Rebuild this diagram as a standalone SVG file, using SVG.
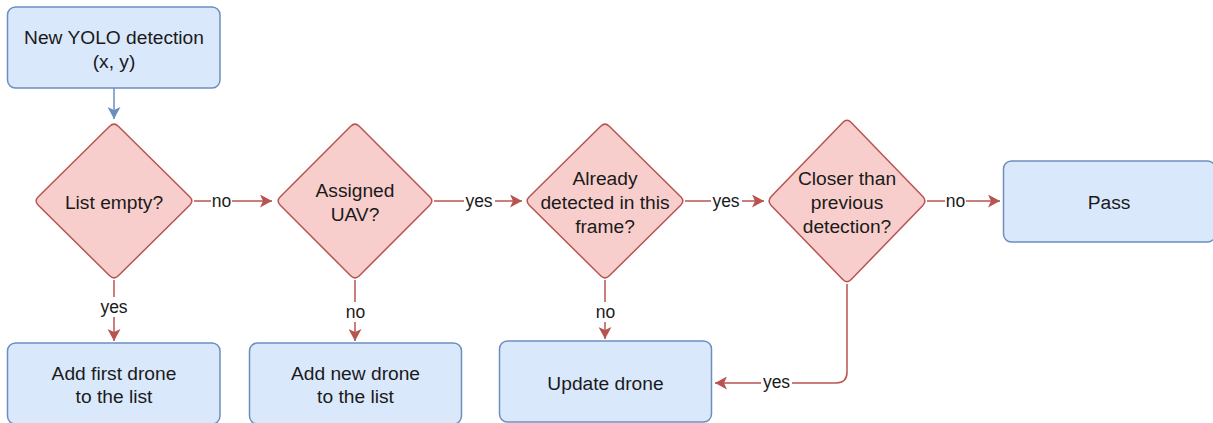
<svg xmlns="http://www.w3.org/2000/svg" width="1213" height="423" viewBox="0 0 1213 423">
  <style>
    .box { fill: #dae8fc; stroke: #6c8ebf; stroke-width: 1.5; }
    .dec { fill: #f8cecc; stroke: #b85450; stroke-width: 1.5; }
    .txt { font-family: "Liberation Sans", Arial, sans-serif; font-size: 19.2px; fill: #1a1a1a; text-anchor: middle; }
    .lbl { font-family: "Liberation Sans", Arial, sans-serif; font-size: 17.5px; fill: #1a1a1a; text-anchor: middle; }
    .edge { fill: none; stroke: #b85450; stroke-width: 1.5; }
    .edge-blue { fill: none; stroke: #6c8ebf; stroke-width: 1.5; }
    .lbg { fill: #ffffff; }
  </style>
  <defs>
    <marker id="arrowRed" markerUnits="userSpaceOnUse" markerWidth="12" markerHeight="13" viewBox="0 0 12 13" refX="12" refY="6.5" orient="auto">
      <path d="M0,0 L12,6.5 L0,13 L3,6.5 Z" fill="#b85450"/>
    </marker>
    <marker id="arrowBlue" markerUnits="userSpaceOnUse" markerWidth="12" markerHeight="13" viewBox="0 0 12 13" refX="12" refY="6.5" orient="auto">
      <path d="M0,0 L12,6.5 L0,13 L3,6.5 Z" fill="#6c8ebf"/>
    </marker>
  </defs>

  <!-- connectors -->
  <g id="connectors">
    <path class="edge-blue" d="M114,88 V119" marker-end="url(#arrowBlue)"/>
    <path class="edge" d="M194,201 H272" marker-end="url(#arrowRed)"/>
    <path class="edge" d="M434,201 H522" marker-end="url(#arrowRed)"/>
    <path class="edge" d="M685,201 H764" marker-end="url(#arrowRed)"/>
    <path class="edge" d="M927,201 H1000" marker-end="url(#arrowRed)"/>
    <path class="edge" d="M114,280 V341" marker-end="url(#arrowRed)"/>
    <path class="edge" d="M355,280 V341" marker-end="url(#arrowRed)"/>
    <path class="edge" d="M605,280 V339" marker-end="url(#arrowRed)"/>
    <path class="edge" d="M847,284 V372 Q847,383 836,383 H715" marker-end="url(#arrowRed)"/>

    <!-- edge labels -->
    <rect class="lbg" x="211" y="192" width="21" height="18"/>
    <text class="lbl" x="221.5" y="207">no</text>
    <rect class="lbg" x="464" y="192" width="31" height="18"/>
    <text class="lbl" x="479" y="207">yes</text>
    <rect class="lbg" x="711" y="192" width="31" height="18"/>
    <text class="lbl" x="726" y="207">yes</text>
    <rect class="lbg" x="945" y="192" width="21" height="18"/>
    <text class="lbl" x="955.5" y="207">no</text>
    <rect class="lbg" x="99" y="297" width="30" height="20"/>
    <text class="lbl" x="114" y="313">yes</text>
    <rect class="lbg" x="345" y="302" width="21" height="20"/>
    <text class="lbl" x="355.5" y="318">no</text>
    <rect class="lbg" x="595" y="302" width="21" height="20"/>
    <text class="lbl" x="605.5" y="318">no</text>
    <rect class="lbg" x="761" y="374" width="31" height="18"/>
    <text class="lbl" x="776.5" y="388">yes</text>
  </g>

  <g id="node-start">
    <rect class="box" x="7.5" y="7" width="212.5" height="81" rx="8"/>
    <text class="txt" x="114" y="44">New YOLO detection</text>
    <text class="txt" x="114" y="68">(x, y)</text>
  </g>

  <g id="node-list-empty">
    <path class="dec" d="M109.7,126.2 Q114,122 118.3,126.2 L189.7,196.8 Q194,201 189.7,205.2 L118.3,275.8 Q114,280 109.7,275.8 L38.3,205.2 Q34,201 38.3,196.8 Z"/>
    <text class="txt" x="114" y="209">List empty?</text>
  </g>

  <g id="node-assigned">
    <path class="dec" d="M350.7,126.2 Q355,122 359.3,126.2 L429.7,196.8 Q434,201 429.7,205.2 L359.3,275.8 Q355,280 350.7,275.8 L280.3,205.2 Q276,201 280.3,196.8 Z"/>
    <text class="txt" x="355" y="197">Assigned</text>
    <text class="txt" x="355" y="221">UAV?</text>
  </g>

  <g id="node-already">
    <path class="dec" d="M600.7,126.2 Q605,122 609.3,126.2 L680.7,196.8 Q685,201 680.7,205.2 L609.3,275.8 Q605,280 600.7,275.8 L529.3,205.2 Q525,201 529.3,196.8 Z"/>
    <text class="txt" x="605" y="185">Already</text>
    <text class="txt" x="605" y="209">detected in this</text>
    <text class="txt" x="605" y="233">frame?</text>
  </g>

  <g id="node-closer">
    <path class="dec" d="M842.8,122.4 Q847,118 851.2,122.4 L922.8,196.6 Q927,201 922.8,205.4 L851.2,279.6 Q847,284 842.8,279.6 L771.2,205.4 Q767,201 771.2,196.6 Z"/>
    <text class="txt" x="847" y="185">Closer than</text>
    <text class="txt" x="847" y="209">previous</text>
    <text class="txt" x="847" y="233">detection?</text>
  </g>

  <g id="node-pass">
    <rect class="box" x="1003.5" y="161" width="212" height="81" rx="8"/>
    <text class="txt" x="1109" y="209">Pass</text>
  </g>

  <g id="node-add-first">
    <rect class="box" x="7.5" y="343" width="212.5" height="81" rx="8"/>
    <text class="txt" x="114" y="380">Add first drone</text>
    <text class="txt" x="114" y="403">to the list</text>
  </g>

  <g id="node-add-new">
    <rect class="box" x="249.5" y="343" width="212" height="81" rx="8"/>
    <text class="txt" x="355.5" y="380">Add new drone</text>
    <text class="txt" x="355.5" y="403">to the list</text>
  </g>

  <g id="node-update">
    <rect class="box" x="499.5" y="341" width="212" height="81" rx="8"/>
    <text class="txt" x="605.5" y="390">Update drone</text>
  </g>
</svg>
